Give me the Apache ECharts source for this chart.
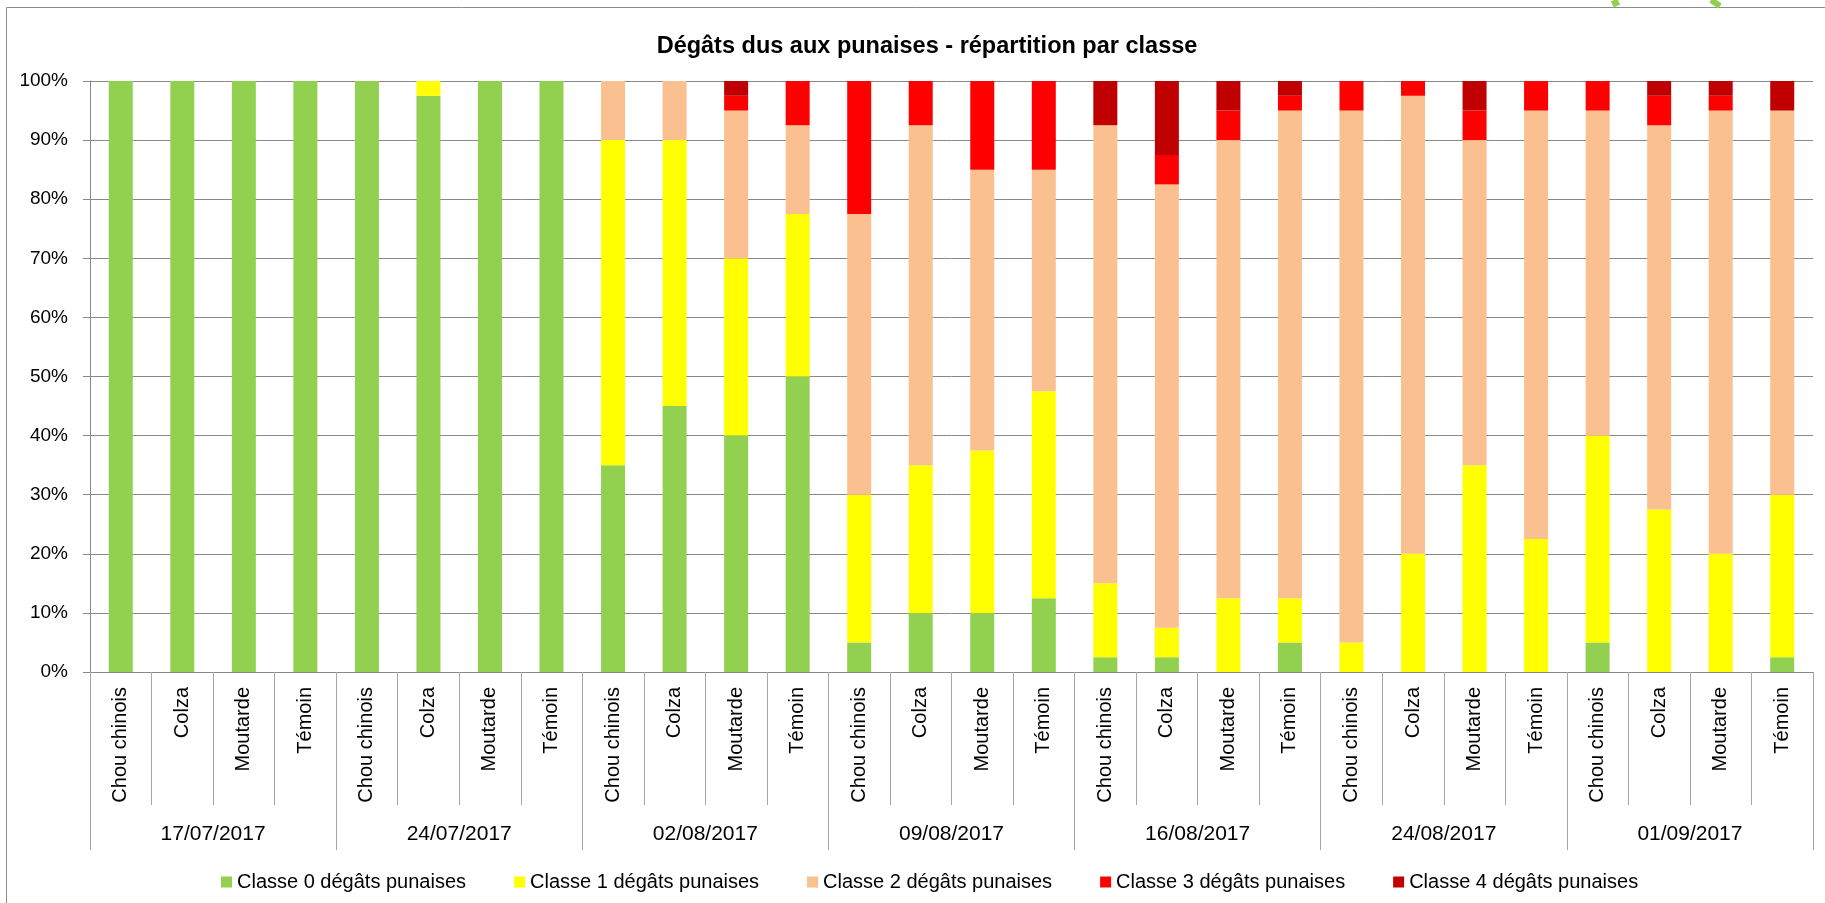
<!DOCTYPE html>
<html>
<head>
<meta charset="utf-8">
<title>Dégâts dus aux punaises</title>
<script src="https://cdn.jsdelivr.net/npm/echarts@6/dist/echarts.min.js"></script>
<style>
    html, body { margin: 0; padding: 0; background: #fff; }
    #chart { width: 1825px; height: 903px; }
</style>
</head>
<body>
<div id="chart"></div>
<script>
// data (percent of plants per damage class)
var crops = ['Chou chinois', 'Colza', 'Moutarde', 'Témoin'];
var dates = ['17/07/2017', '24/07/2017', '02/08/2017', '09/08/2017', '16/08/2017', '24/08/2017', '01/09/2017'];
var seriesNames = [
    'Classe 0 dégâts punaises',
    'Classe 1 dégâts punaises',
    'Classe 2 dégâts punaises',
    'Classe 3 dégâts punaises',
    'Classe 4 dégâts punaises'
];
var classe0 = [100, 100, 100, 100, 100, 97.5, 100, 100, 35, 45, 40, 50, 5, 10, 10, 12.5, 2.5, 2.5, 0, 5, 0, 0, 0, 0, 5, 0, 0, 2.5];
var classe1 = [0, 0, 0, 0, 0, 2.5, 0, 0, 55, 45, 30, 27.5, 25, 25, 27.5, 35, 12.5, 5, 12.5, 7.5, 5, 20, 35, 22.5, 35, 27.5, 20, 27.5];
var classe2 = [0, 0, 0, 0, 0, 0, 0, 0, 10, 10, 25, 15, 47.5, 57.5, 47.5, 37.5, 77.5, 75, 77.5, 82.5, 90, 77.5, 55, 72.5, 55, 65, 75, 65];
var classe3 = [0, 0, 0, 0, 0, 0, 0, 0, 0, 0, 2.5, 7.5, 22.5, 7.5, 15, 15, 0, 5, 5, 2.5, 5, 2.5, 5, 5, 5, 5, 2.5, 0];
var classe4 = [0, 0, 0, 0, 0, 0, 0, 0, 0, 0, 2.5, 0, 0, 0, 0, 0, 7.5, 12.5, 5, 2.5, 0, 0, 5, 0, 0, 2.5, 2.5, 5];
var colors = ['#92D050', '#FFFF00', '#FAC090', '#FF0000', '#C00000'];

// one category per crop and date
var categories = [];
for (var d = 0; d < dates.length; d++) {
    for (var c = 0; c < crops.length; c++) {
        categories.push(crops[c]);
    }
}

var font = 'Liberation Sans';
var gridColor = '#898989';
var sepColor = '#a6a6a6';

var myChart = echarts.init(document.getElementById('chart'));
var values = [classe0, classe1, classe2, classe3, classe4];
var series = [];
for (var i = 0; i < values.length; i++) {
    series.push({
        name: seriesNames[i],
        type: 'bar',
        stack: 'total',
        xAxisIndex: 0,
        barWidth: '39%',
        itemStyle: { color: colors[i] },
        emphasis: { disabled: true },
        data: values[i]
    });
}

var option = {
    animation: false,
    color: colors,
    textStyle: { fontFamily: font },
    title: {
        text: 'Dégâts dus aux punaises - répartition par classe',
        left: 922,
        top: 30,
        textAlign: 'center',
        textStyle: { fontFamily: font, fontWeight: 'bold', fontSize: 23.5, color: '#000' }
    },
    legend: {
        data: seriesNames,
        left: 216,
        top: 867,
        icon: 'rect',
        itemWidth: 11,
        itemHeight: 11,
        itemGap: 48,
        textStyle: { fontFamily: font, fontSize: 20, color: '#000' }
    },
    grid: { left: 90, right: 12, top: 81, bottom: 231, containLabel: false },
    xAxis: [
        {
            type: 'category',
            data: categories,
            position: 'bottom',
            axisLine: { show: true, lineStyle: { color: gridColor, width: 1 } },
            axisTick: { show: true, interval: 0, length: 133, lineStyle: { color: sepColor, width: 1 } },
            axisLabel: {
                interval: 0,
                rotate: 90,
                margin: 15,
                fontFamily: font,
                fontSize: 20,
                color: '#000'
            },
            splitLine: { show: false }
        },
        {
            type: 'category',
            data: dates,
            position: 'bottom',
            offset: 0,
            axisLine: { show: false },
            axisTick: { show: true, interval: 0, length: 178, lineStyle: { color: sepColor, width: 1 } },
            axisLabel: {
                interval: 0,
                margin: 152,
                fontFamily: font,
                fontSize: 21,
                color: '#000'
            },
            splitLine: { show: false }
        }
    ],
    yAxis: {
        type: 'value',
        min: 0,
        max: 100,
        interval: 10,
        axisLine: { show: true, lineStyle: { color: gridColor } },
        axisTick: { show: true, length: 7, lineStyle: { color: gridColor } },
        axisLabel: {
            formatter: '{value}%',
            margin: 22,
            fontFamily: font,
            fontSize: 19,
            color: '#000'
        },
        splitLine: { show: true, lineStyle: { color: gridColor, width: 1 } }
    },
    graphic: [
        {
            type: 'rect',
            silent: true,
            shape: { x: 6.5, y: 7.5, width: 1840, height: 910 },
            style: { fill: null, stroke: '#8c8c8c', lineWidth: 1 }
        },
        {
            type: 'line',
            silent: true,
            shape: { x1: 1614, y1: 0, x2: 1617, y2: 6 },
            style: { stroke: '#92D050', lineWidth: 7 }
        },
        {
            type: 'line',
            silent: true,
            shape: { x1: 1711, y1: 0, x2: 1720, y2: 6 },
            style: { stroke: '#92D050', lineWidth: 6 }
        }
    ],
    series: series
};

myChart.setOption(option);
window.addEventListener('resize', function () {
    myChart.resize();
});
</script>
</body>
</html>
